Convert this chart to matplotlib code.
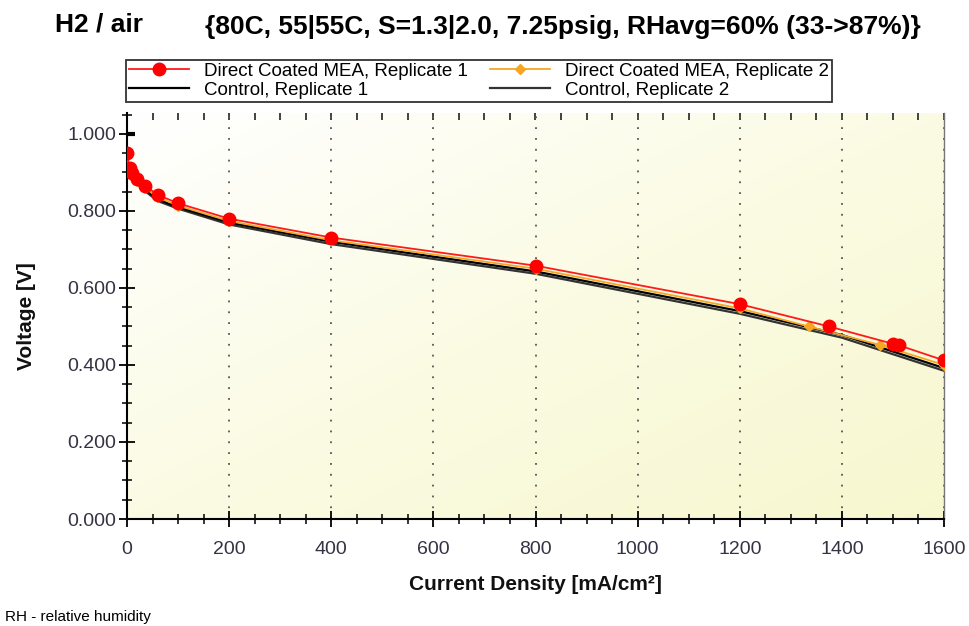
import numpy as np
import matplotlib.pyplot as plt
from matplotlib.colors import LinearSegmentedColormap
from matplotlib.ticker import MultipleLocator, FormatStrFormatter, NullFormatter

plt.rcParams['font.family'] = ['Liberation Sans', 'DejaVu Sans']

# polarisation data
dc1_x = [0, 5, 10, 20, 35, 60, 100, 200, 400, 800, 1200, 1375, 1500, 1512, 1600]
dc1_v = [0.950, 0.912, 0.898, 0.884, 0.866, 0.842, 0.820, 0.780, 0.731, 0.658, 0.558, 0.500, 0.455, 0.451, 0.412]

dc2_x = [0, 5, 10, 20, 35, 60, 100, 200, 400, 800, 1200, 1335, 1475, 1600]
dc2_v = [0.945, 0.906, 0.892, 0.878, 0.860, 0.836, 0.814, 0.774, 0.724, 0.650, 0.547, 0.500, 0.452, 0.400]

c1_x = [5, 10, 20, 35, 60, 100, 200, 400, 800, 1200, 1400, 1600]
c1_v = [0.905, 0.890, 0.874, 0.856, 0.830, 0.810, 0.770, 0.720, 0.643, 0.540, 0.478, 0.392]

c2_x = [5, 10, 20, 35, 60, 100, 200, 400, 800, 1200, 1400, 1600]
c2_v = [0.900, 0.886, 0.870, 0.852, 0.826, 0.806, 0.765, 0.714, 0.637, 0.533, 0.471, 0.385]

# open-circuit point of control 1
ocv_x = [4]
ocv_v = [1.000]

fig = plt.figure(figsize=(9.69, 6.26), dpi=100)
ax = fig.add_axes([127/969, 1 - 519/626, (944 - 127)/969, (519 - 113)/626])

# pale diagonal gradient background
cmap = LinearSegmentedColormap.from_list('bg', ['#ffffff', '#fbfbe4', '#f7f7cf'])
gx, gy = np.meshgrid(np.linspace(0, 1, 200), np.linspace(0, 1, 200))
ax.imshow((gx + gy) / 2, cmap=cmap, extent=[0, 1600, 0, 1.0545], aspect='auto',
          origin='upper', zorder=0)

ax.plot(c2_x, c2_v, color='#333333', lw=1.6, zorder=2, label='Control, Replicate 2')
ax.plot(c1_x, c1_v, color='black', lw=1.6, zorder=2, label='Control, Replicate 1')
ax.plot(ocv_x, ocv_v, color='black', marker='_', ms=8, mew=3, ls='none', zorder=2)
ax.plot(dc2_x, dc2_v, color='#f5a623', lw=1.3, marker='D', ms=5, zorder=3,
        label='Direct Coated MEA, Replicate 2')
ax.plot(dc1_x, dc1_v, color='#ff1a1a', lw=1.3, marker='o', ms=9, mfc='red', mec='red',
        zorder=4, label='Direct Coated MEA, Replicate 1')

ax.set_xlim(0, 1600)
ax.set_ylim(0, 1.0545)
ax.xaxis.set_major_locator(MultipleLocator(200))
ax.xaxis.set_minor_locator(MultipleLocator(50))
ax.yaxis.set_major_locator(MultipleLocator(0.2))
ax.yaxis.set_minor_locator(MultipleLocator(0.05))
ax.yaxis.set_major_formatter(FormatStrFormatter('%.3f'))
ax.set_yticks([0, 0.2, 0.4, 0.6, 0.8, 1.0])

ax.tick_params(which='major', direction='inout', length=12, width=1.3, labelsize=14,
               labelcolor='#333344')
ax.tick_params(which='minor', direction='inout', length=7, width=1.1)
ax.tick_params(axis='x', pad=10)
ax.tick_params(axis='y', pad=2)
ax.grid(axis='x', which='major', color='#555555', linestyle=(0, (1, 5)), lw=1.3)
ax.spines['top'].set_visible(False)
ax.spines['right'].set_color('#777777')
ax.spines['right'].set_linewidth(1.0)
for s in ['left', 'bottom']:
    ax.spines[s].set_linewidth(1.5)

# small inward ticks along the top edge
sec = ax.secondary_xaxis('top')
sec.xaxis.set_major_locator(MultipleLocator(200))
sec.xaxis.set_minor_locator(MultipleLocator(50))
sec.xaxis.set_major_formatter(NullFormatter())
sec.tick_params(which='both', direction='in', length=5, width=1.2, color='#222222')
sec.spines['top'].set_visible(False)

ax.set_xlabel('Current Density [mA/cm²]', fontsize=15, fontweight='bold', labelpad=12,
              color='#111111')
ax.set_ylabel('Voltage [V]', fontsize=15, fontweight='bold', labelpad=22, color='#111111')

fig.text(55/969, 1 - 25/626, 'H2 / air', fontsize=19, fontweight='bold', va='center')
fig.text(205/969, 1 - 27/626, '{80C, 55|55C, S=1.3|2.0, 7.25psig, RHavg=60% (33->87%)}',
         fontsize=19, fontweight='bold', va='center')
fig.text(5/969, 1 - 617/626, 'RH - relative humidity', fontsize=11, va='center')

h, l = ax.get_legend_handles_labels()
# column-major fill: DC1, C1 | DC2, C2
order = [3, 1, 2, 0]
leg = fig.legend([h[i] for i in order], [l[i] for i in order], ncol=2,
                 loc='upper left', bbox_to_anchor=(126/969, 1 - 60/626), borderaxespad=0,
                 fontsize=13.5, frameon=True, fancybox=False, edgecolor='black',
                 borderpad=0.15, labelspacing=0.1, handlelength=3.2, columnspacing=1.2,
                 handletextpad=0.8)
leg.get_frame().set_linewidth(1.3)

fig.savefig('out.png', dpi=100)
